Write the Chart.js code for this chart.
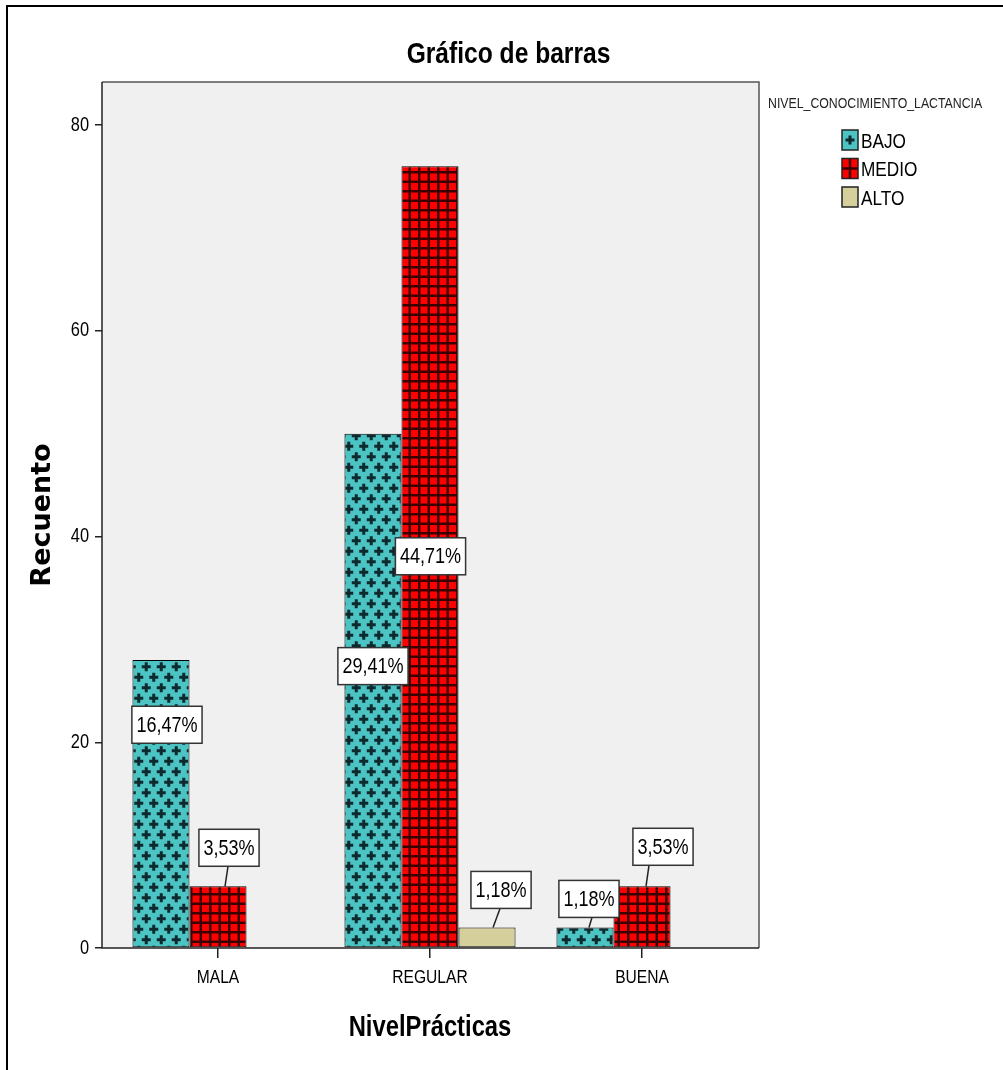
<!DOCTYPE html>
<html><head><meta charset="utf-8">
<script src="https://cdn.jsdelivr.net/npm/chart.js@4.4.1/dist/chart.umd.min.js"></script>
<style>html,body{margin:0;padding:0;background:#fff;} #wrap{width:1003px;height:1070px;}</style>
</head><body><div id="wrap"><canvas id="c" width="1003" height="1070"></canvas></div>
<script>
// ---- data ----
const categories = ['MALA', 'REGULAR', 'BUENA'];
const seriesNames = ['BAJO', 'MEDIO', 'ALTO'];
const bajo  = [28, 50, 2];
const medio = [6, 76, 6];
const alto  = [0, 2, 0];
const yTicks = [0, 20, 40, 60, 80];
const chartTitle = 'Gráfico de barras';
const xTitle = 'NivelPrácticas';
const yTitle = 'Recuento';
const legendTitle = 'NIVEL_CONOCIMIENTO_LACTANCIA';

// ---- fonts: narrow (condensed) text like the SPSS output ----
function hasFont(name){
  const c = document.createElement('canvas').getContext('2d');
  const s = 'REGULAR mwi 0123 BAJO';
  c.font = '40px monospace'; const a = c.measureText(s).width;
  c.font = '40px "' + name + '", monospace'; const b = c.measureText(s).width;
  return Math.abs(a - b) > 0.5;
}
const HAS_NARROW = hasFont('Liberation Sans Narrow');
const NARROW = HAS_NARROW ? '"Liberation Sans Narrow", "Liberation Sans", Arial' : '"Liberation Sans", Arial';
const K = 0.82; // horizontal condensation applied to horizontal text when no narrow face exists
if (!HAS_NARROW) {
  const P = CanvasRenderingContext2D.prototype;
  const origFill = P.fillText, origMeasure = P.measureText;
  const upright = (ctx) => { const m = ctx.getTransform(); return m.b === 0 && m.c === 0; };
  P.fillText = function(t, x, y, maxW){
    if (!this.canvas.__condense || !upright(this)) return origFill.call(this, t, x, y, maxW);
    this.save(); this.translate(x, y); this.scale(K, 1);
    if (maxW === undefined) origFill.call(this, t, 0, 0); else origFill.call(this, t, 0, 0, maxW / K);
    this.restore();
  };
  P.measureText = function(t){
    const m = origMeasure.call(this, t);
    if (!this.canvas.__condense || !upright(this)) return m;
    return { width: m.width * K, actualBoundingBoxLeft: m.actualBoundingBoxLeft * K, actualBoundingBoxRight: m.actualBoundingBoxRight * K,
      actualBoundingBoxAscent: m.actualBoundingBoxAscent, actualBoundingBoxDescent: m.actualBoundingBoxDescent,
      fontBoundingBoxAscent: m.fontBoundingBoxAscent, fontBoundingBoxDescent: m.fontBoundingBoxDescent };
  };
}
const canvasEl = document.getElementById('c');
canvasEl.__condense = true;

// ---- patterns ----
const TEAL = '#4CC4C4', RED = '#FF0000', TAN = '#D5CF9B';
function plusPattern(){
  const w = 15, h = 21;
  const t = document.createElement('canvas'); t.width = w; t.height = h;
  const g = t.getContext('2d');
  g.fillStyle = TEAL; g.fillRect(0, 0, w, h);
  g.fillStyle = '#0E2A2E';
  const plus = (cx, cy) => { g.fillRect(cx - 4.5, cy - 1.5, 9, 3); g.fillRect(cx - 1.5, cy - 4.5, 3, 9); };
  for (const ox of [-w, 0, w]) for (const oy of [-h, 0, h]) { plus(3.75 + ox, 5.25 + oy); plus(11.25 + ox, 15.75 + oy); }
  return g.createPattern(t, 'repeat');
}
function gridPattern(){
  const s = 19;
  const t = document.createElement('canvas'); t.width = s; t.height = s;
  const g = t.getContext('2d');
  g.fillStyle = RED; g.fillRect(0, 0, s, s);
  g.fillStyle = '#3A0000';
  g.fillRect(0, 0, 2.5, s); g.fillRect(9.5, 0, 2.5, s);
  g.fillRect(0, 0, s, 2.5); g.fillRect(0, 9.5, s, 2.5);
  return g.createPattern(t, 'repeat');
}
const fills = [plusPattern(), gridPattern(), TAN];
const swatchColors = [TEAL, RED, TAN];

// ---- plugins ----
const framePlugin = {
  id: 'frame',
  beforeDraw(chart){
    const {ctx, chartArea: a} = chart;
    ctx.save();
    ctx.fillStyle = '#000';
    ctx.fillRect(6, 5, 997, 2);
    ctx.fillRect(6, 5, 2, 1065);
    ctx.fillStyle = '#F0F0F0';
    ctx.fillRect(a.left, a.top, a.right - a.left, a.bottom - a.top);
    ctx.restore();
  },
  afterDatasetsDraw(chart){
    const {ctx, chartArea: a} = chart;
    ctx.save();
    ctx.lineWidth = 1.5;
    ctx.strokeStyle = '#555';
    ctx.beginPath(); ctx.moveTo(a.left, a.top); ctx.lineTo(a.right, a.top); ctx.lineTo(a.right, a.bottom); ctx.stroke();
    ctx.strokeStyle = '#222';
    ctx.beginPath(); ctx.moveTo(a.left, a.top); ctx.lineTo(a.left, a.bottom); ctx.lineTo(a.right, a.bottom); ctx.stroke();
    ctx.restore();
  }
};

const xShiftPlugin = {
  id: 'xShift',
  afterLayout(chart){
    const x = chart.scales.x;
    x.left += 10; x.right -= 11; x.width = x.right - x.left;
    x._gridLineItems = null; x._labelItems = null;
    x.configure();
  }
};

const barLabelPlugin = {
  id: 'barLabels',
  afterDatasetsDraw(chart, args, opts){
    const ctx = chart.ctx; const y = chart.scales.y;
    const total = chart.data.datasets.reduce((s, d) => s + d.data.reduce((a, b) => a + (b || 0), 0), 0);
    ctx.save();
    ctx.font = opts.fontSize + 'px ' + NARROW;
    chart.data.datasets.forEach((ds, i) => {
      const meta = chart.getDatasetMeta(i);
      ds.data.forEach((v, j) => {
        if (!v) return;
        const bar = meta.data[j];
        const p = opts.placements[i + '-' + j];
        const text = (v / total * 100).toFixed(2).replace('.', ',') + '%';
        const tw = ctx.measureText(text).width;
        const bw = tw + 2 * opts.padX, bh = opts.boxH;
        const cx = bar.x + p.dx;
        let cy;
        if (p.inside != null) cy = y.getPixelForValue(v * p.inside);
        else cy = bar.y - p.gap - bh / 2;
        if (p.gap != null) {
          ctx.strokeStyle = '#222'; ctx.lineWidth = 1.5;
          ctx.beginPath(); ctx.moveTo(cx + p.lineBox, cy + bh / 2); ctx.lineTo(bar.x + p.lineBar, bar.y); ctx.stroke();
        }
        ctx.fillStyle = '#fff'; ctx.fillRect(cx - bw / 2, cy - bh / 2, bw, bh);
        ctx.strokeStyle = '#333'; ctx.lineWidth = 1.5; ctx.strokeRect(cx - bw / 2, cy - bh / 2, bw, bh);
        ctx.fillStyle = '#000'; ctx.textAlign = 'center'; ctx.textBaseline = 'middle';
        ctx.fillText(text, cx, cy + 1);
      });
    });
    ctx.restore();
  }
};

const legendPlugin = {
  id: 'spssLegend',
  afterDraw(chart, args, opts){
    const ctx = chart.ctx;
    ctx.save();
    ctx.textAlign = 'left'; ctx.textBaseline = 'middle'; ctx.fillStyle = '#222';
    ctx.font = opts.titleSize + 'px ' + NARROW;
    ctx.fillText(legendTitle, opts.titleX, opts.titleY);
    chart.data.datasets.forEach((ds, i) => {
      const cy = opts.itemY + i * opts.itemStep;
      const sx = opts.swatchX, sy = cy - 11, sw = 16, sh = 20;
      ctx.fillStyle = swatchColors[i]; ctx.fillRect(sx, sy, sw, sh);
      if (i === 0) { ctx.fillStyle = '#0E2A2E'; ctx.fillRect(sx + 3.5, sy + 8.5, 9, 3); ctx.fillRect(sx + 6.5, sy + 5.5, 3, 9); }
      if (i === 1) { ctx.fillStyle = '#3A0000'; ctx.fillRect(sx + 6.75, sy, 2.5, sh); ctx.fillRect(sx, sy + 8.75, sw, 2.5); }
      ctx.strokeStyle = '#222'; ctx.lineWidth = 1.5; ctx.strokeRect(sx, sy, sw, sh);
      ctx.fillStyle = '#000'; ctx.font = opts.itemSize + 'px ' + NARROW;
      ctx.fillText(ds.label, sx + 19, cy + 1);
    });
    ctx.restore();
  }
};

new Chart(canvasEl, {
  type: 'bar',
  data: {
    labels: categories,
    datasets: [
      { label: seriesNames[0], data: bajo,  backgroundColor: fills[0], borderColor: '#000', borderWidth: 1, borderSkipped: false },
      { label: seriesNames[1], data: medio, backgroundColor: fills[1], borderColor: '#000', borderWidth: 1, borderSkipped: false },
      { label: seriesNames[2], data: alto,  backgroundColor: fills[2], borderColor: '#000', borderWidth: 1, borderSkipped: false }
    ]
  },
  plugins: [xShiftPlugin, framePlugin, barLabelPlugin, legendPlugin],
  options: {
    responsive: false, animation: false,
    layout: { padding: { left: 14, right: 0, top: 0, bottom: 0 } },
    datasets: { bar: { categoryPercentage: 0.807, barPercentage: 1.0 } },
    plugins: {
      legend: { display: false }, tooltip: { enabled: false },
      title: { display: true, text: chartTitle, color: '#000', font: { family: NARROW, size: 30, weight: 'bold' }, padding: { top: 37, bottom: 9 } },
      barLabels: {
        fontSize: 22, padX: 4.5, boxH: 37,
        placements: {
          '0-0': { dx: 6, inside: 0.775 },
          '1-0': { dx: 11, gap: 20, lineBox: -1, lineBar: 7 },
          '0-1': { dx: 0, inside: 0.548 },
          '1-1': { dx: 0.5, inside: 0.501 },
          '2-1': { dx: 14, gap: 19, lineBox: -1, lineBar: 6 },
          '0-2': { dx: 4, gap: 10, lineBox: 3, lineBar: 4 },
          '1-2': { dx: 21, gap: 21, lineBox: -14, lineBar: 4 }
        }
      },
      spssLegend: { titleX: 768, titleY: 104, titleSize: 15, swatchX: 842, itemY: 141, itemStep: 28.5, itemSize: 21 }
    },
    scales: {
      x: {
        type: 'category', offset: true,
        grid: { display: true, drawOnChartArea: false, offset: false, tickLength: 10, color: '#222', tickColor: '#222', lineWidth: 1.5, tickWidth: 1.5 },
        border: { display: false },
        ticks: { font: { family: NARROW, size: 19 }, color: '#000', padding: 8, maxRotation: 0 },
        title: { display: true, text: xTitle, color: '#000', font: { family: NARROW, size: 29, weight: 'bold' }, padding: { top: 0, bottom: 25 } },
        afterFit(s){ s.height = 122; }
      },
      y: {
        min: 0, max: 84.18,
        afterBuildTicks(s){ s.ticks = yTicks.map(v => ({ value: v })); },
        ticks: { font: { family: NARROW, size: 20 }, color: '#000', padding: 6 },
        grid: { display: true, drawOnChartArea: false, tickLength: 7, color: '#222', tickColor: '#222', lineWidth: 1.5, tickWidth: 1.5 },
        border: { display: false },
        title: { display: true, text: yTitle, color: '#000', font: { family: 'DejaVu Sans', size: 27, weight: 'bold' }, padding: { top: 13, bottom: 0 } },
        afterFit(s){ s.width = 88; }
      },
      r: {
        type: 'linear', position: 'right', display: true,
        ticks: { display: false }, grid: { display: false }, border: { display: false },
        afterFit(s){ s.width = 244; }
      }
    }
  }
});
</script>
</body></html>
